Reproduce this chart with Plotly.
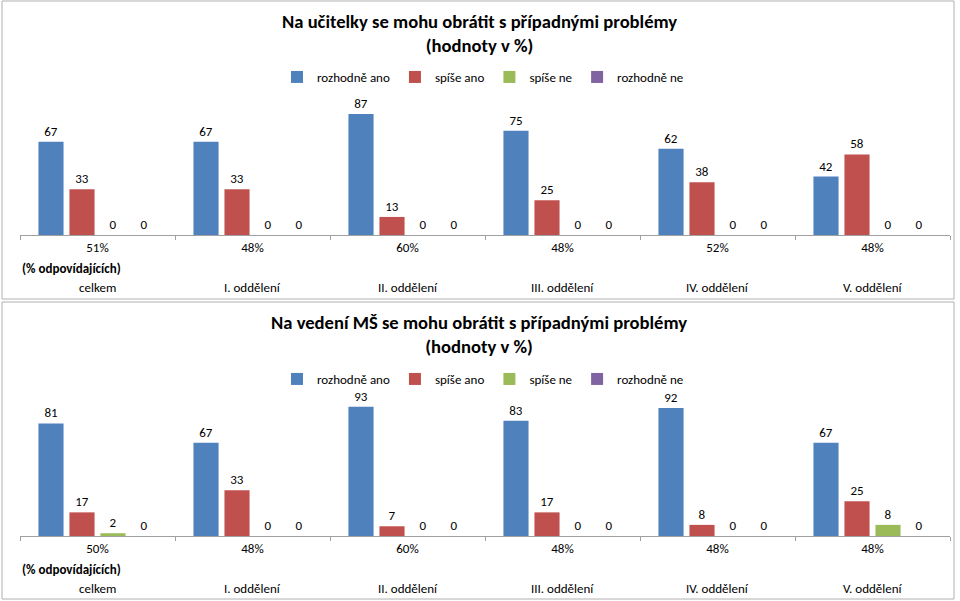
import plotly.graph_objects as go

W, H = 960, 601

departments = ["celkem", "I. oddělení", "II. oddělení", "III. oddělení", "IV. oddělení", "V. oddělení"]
respondents_top = ["51%", "48%", "60%", "48%", "52%", "48%"]
respondents_bottom = ["50%", "48%", "60%", "48%", "48%", "48%"]

series_names = ["rozhodně ano", "spíše ano", "spíše ne", "rozhodně ne"]
series_colors = ["#4F81BD", "#C0504D", "#9BBB59", "#8064A2"]

top_rozhodne_ano = [67, 67, 87, 75, 62, 42]
top_spise_ano = [33, 33, 13, 25, 38, 58]
top_spise_ne = [0, 0, 0, 0, 0, 0]
top_rozhodne_ne = [0, 0, 0, 0, 0, 0]

bot_rozhodne_ano = [81, 67, 93, 83, 92, 67]
bot_spise_ano = [17, 33, 7, 17, 8, 25]
bot_spise_ne = [2, 0, 0, 0, 0, 8]
bot_rozhodne_ne = [0, 0, 0, 0, 0, 0]

title_top = "Na učitelky se mohu obrátit s případnými problémy<br>(hodnoty v %)"
title_bottom = "Na vedení MŠ se mohu obrátit s případnými problémy<br>(hodnoty v %)"
note_label = "(% odpovídajících)"

FONT = "Carlito, Calibri, Lato, sans-serif"


def px(x):
    return x / W


def py(y):
    return 1 - y / H


fig = go.Figure()

top_series = [top_rozhodne_ano, top_spise_ano, top_spise_ne, top_rozhodne_ne]
bot_series = [bot_rozhodne_ano, bot_spise_ano, bot_spise_ne, bot_rozhodne_ne]

for name, color, vals in zip(series_names, series_colors, top_series):
    fig.add_trace(go.Bar(x=departments, y=vals, name=name, marker_color=color,
                         marker_line_width=0, text=[str(v) for v in vals],
                         textposition="outside", cliponaxis=False,
                         textfont=dict(family=FONT, size=13, color="#000"),
                         xaxis="x", yaxis="y", legend="legend"))
for name, color, vals in zip(series_names, series_colors, bot_series):
    fig.add_trace(go.Bar(x=departments, y=vals, name=name, marker_color=color,
                         marker_line_width=0, text=[str(v) for v in vals],
                         textposition="outside", cliponaxis=False,
                         textfont=dict(family=FONT, size=13, color="#000"),
                         xaxis="x2", yaxis="y2", legend="legend2"))

xaxis_common = dict(type="category", showline=True, linecolor="#A0A0A0", linewidth=1,
                    ticks="outside", tickson="boundaries", ticklen=4, tickcolor="#A0A0A0",
                    tickfont=dict(family=FONT, size=13, color="#000"), showgrid=False,
                    zeroline=False, fixedrange=True, automargin=False, tickmode="array",
                    tickvals=departments, range=[-0.5, 5.5])
yaxis_common = dict(range=[0, 100], visible=False, showgrid=False, zeroline=False,
                    fixedrange=True, automargin=False)

fig.update_layout(
    width=W, height=H,
    margin=dict(l=0, r=0, t=0, b=0, autoexpand=False),
    paper_bgcolor="white", plot_bgcolor="white",
    barmode="group", bargap=0.2, bargroupgap=0.19,
    font=dict(family=FONT, size=13, color="#000"),
    xaxis=dict(domain=[px(20), px(950)], anchor="y", ticktext=respondents_top, **xaxis_common),
    yaxis=dict(domain=[py(235), py(96)], anchor="x", **yaxis_common),
    xaxis2=dict(domain=[px(20), px(950)], anchor="y2", ticktext=respondents_bottom, **xaxis_common),
    yaxis2=dict(domain=[py(536), py(397)], anchor="x2", **yaxis_common),
    legend=dict(orientation="h", x=px(483), xanchor="center", y=py(77), yanchor="middle",
                font=dict(family=FONT, size=13, color="#000"), itemwidth=30,
                bgcolor="rgba(0,0,0,0)"),
    legend2=dict(orientation="h", x=px(483), xanchor="center", y=py(379), yanchor="middle",
                 font=dict(family=FONT, size=13, color="#000"), itemwidth=30,
                 bgcolor="rgba(0,0,0,0)"),
    showlegend=True,
)

# panel borders
for y0, y1 in [(1, 299), (302, 599)]:
    fig.add_shape(type="rect", xref="paper", yref="paper",
                  x0=px(2), x1=px(954), y0=py(y1), y1=py(y0),
                  line=dict(color="#B0B0B0", width=1), fillcolor="rgba(0,0,0,0)")

# titles
for t, yc in [(title_top, 34), (title_bottom, 335)]:
    fig.add_annotation(text="<b>" + t + "</b>", xref="paper", yref="paper",
                       x=px(479), y=py(yc), xanchor="center", yanchor="middle",
                       showarrow=False, align="center",
                       font=dict(family=FONT, size=18.6, color="#000"))

# "(% odpovídajících)" notes and department names
for xref, yn, yc in [("x", 268, 287), ("x2", 569, 588)]:
    fig.add_annotation(text="<b>" + note_label + "</b>", xref="paper", yref="paper",
                       x=px(20), y=py(yn), xanchor="left", yanchor="middle",
                       showarrow=False, font=dict(family=FONT, size=13, color="#000"))
    for d in departments:
        fig.add_annotation(text=d, xref=xref, yref="paper", x=d, y=py(yc),
                           xanchor="center", yanchor="middle", showarrow=False,
                           font=dict(family=FONT, size=13, color="#000"))

fig.write_html("out.html", config={"displayModeBar": False},
               post_script="document.body.style.margin='0';document.body.style.overflow='hidden';")
